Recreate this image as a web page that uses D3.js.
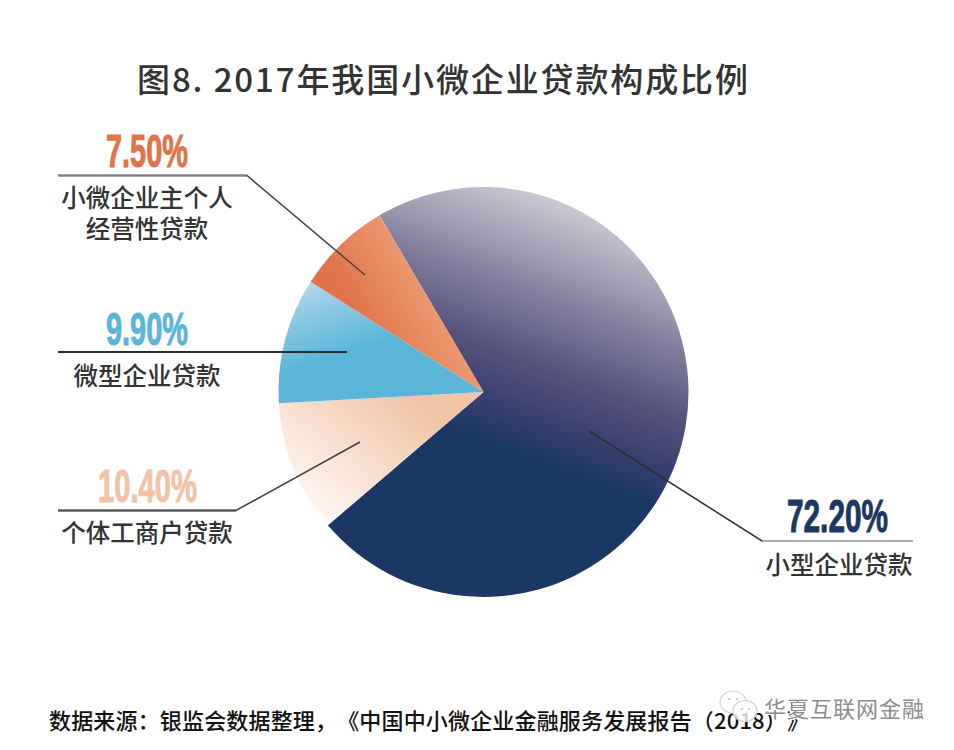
<!DOCTYPE html>
<html>
<head>
<meta charset="utf-8">
<script src="https://cdn.jsdelivr.net/npm/d3@7"></script>
<style>
html, body { margin: 0; padding: 0; background: #fff; }
svg { display: block; }
text { font-family: "Noto Sans CJK SC", sans-serif; text-spacing-trim: space-all; font-feature-settings: "chws" 0; }
</style>
</head>
<body>
<script>
var titleText = "图8. 2017年我国小微企业贷款构成比例";
var sourceText = "数据来源：银监会数据整理，《中国中小微企业金融服务发展报告（2018）》";
var watermarkText = "华夏互联网金融";

// clockwise from the top of the big slice
var categories = ["小型企业贷款", "个体工商户贷款", "微型企业贷款", "小微企业主个人经营性贷款"];
var values = [72.2, 10.4, 9.9, 7.5];
var valueLabels = ["72.20%", "10.40%", "9.90%", "7.50%"];

var width = 954, height = 750;
var cx = 483.5, cy = 392, radius = 205;

var svg = d3.select("body").append("svg").attr("width", width).attr("height", height);
var defs = svg.append("defs");

// gradient ends are page coordinates, the pie group is translated
var grads = [
  {x1: 630, y1: 195, x2: 530, y2: 460, stops: [["0%", "#e2e0e5"], ["25%", "#aeaabd"], ["46%", "#7f7c9b"], ["68%", "#55537b"], ["83%", "#3c4270"], ["100%", "#1b3763"]]},
  {x1: 410, y1: 395, x2: 305, y2: 522, stops: [["0%", "#f0c4a6"], ["100%", "#fffbf8"]]},
  {x1: 298, y1: 285, x2: 322, y2: 360, stops: [["0%", "#b0d7e9"], ["100%", "#5ab5d9"]]},
  {x1: 350, y1: 305, x2: 435, y2: 255, stops: [["0%", "#e0734a"], ["100%", "#efa67d"]]}
];
grads.forEach(function(g, i) {
  var lg = defs.append("linearGradient")
    .attr("id", "slice" + i)
    .attr("gradientUnits", "userSpaceOnUse")
    .attr("gradientTransform", "translate(" + (-cx) + "," + (-cy) + ")")
    .attr("x1", g.x1).attr("y1", g.y1)
    .attr("x2", g.x2).attr("y2", g.y2);
  g.stops.forEach(function(s) {
    lg.append("stop").attr("offset", s[0]).attr("stop-color", s[1]);
  });
});

var pie = d3.pie().sort(null)
  .startAngle(-30.5 * Math.PI / 180)
  .endAngle(329.5 * Math.PI / 180);
var arc = d3.arc().innerRadius(0).outerRadius(radius);

svg.append("g")
  .attr("transform", "translate(" + cx + "," + cy + ")")
  .selectAll("path")
  .data(pie(values))
  .enter().append("path")
  .attr("d", arc)
  .attr("fill", function(d, i) { return "url(#slice" + i + ")"; });

// title
svg.append("text")
  .attr("x", 137).attr("y", 92)
  .attr("font-size", 33).attr("font-weight", 500).attr("fill", "#333")
  .attr("textLength", 611).attr("lengthAdjust", "spacing")
  .text(titleText);

// leader lines
var leaders = [
  {pts: [[913, 541], [762, 541], [589, 431]], color: "#2f2d36", first: "#a9a9a9"},
  {pts: [[58, 510.5], [236, 510.5], [360, 442]], color: "#45423f", first: "#4a4a4a"},
  {pts: [[58, 352], [347, 352]], color: "#2b2b33", first: "#2b2b33"},
  {pts: [[58, 175.5], [247, 175.5], [365, 275]], color: "#4a4242", first: "#7a7a7a"}
];
leaders.forEach(function(l) {
  svg.append("path")
    .attr("d", d3.line()(l.pts))
    .attr("fill", "none").attr("stroke", l.color).attr("stroke-width", 1.5);
  svg.append("line")
    .attr("x1", l.pts[0][0]).attr("y1", l.pts[0][1])
    .attr("x2", l.pts[1][0]).attr("y2", l.pts[1][1])
    .attr("stroke", l.first).attr("stroke-width", 2);
});

// value labels
var valueColors = ["#1b3763", "#f0c3a6", "#5ab5d9", "#e0734a"];
var valuePos = [[837.5, 532], [147.5, 502], [147, 345], [147, 167]];
var valueWidths = [101, 99, 82, 82];
valueLabels.forEach(function(t, i) {
  svg.append("text")
    .attr("x", valuePos[i][0]).attr("y", valuePos[i][1])
    .attr("text-anchor", "middle")
    .attr("font-size", 47).attr("font-weight", 700)
    .attr("fill", valueColors[i])
    .attr("stroke", valueColors[i]).attr("stroke-width", 1)
    .attr("textLength", valueWidths[i]).attr("lengthAdjust", "spacingAndGlyphs")
    .style("font-family", '"Liberation Sans Narrow", "Liberation Sans", sans-serif')
    .text(t);
});

// category labels, long one is on two lines
var catLines = [["小型企业贷款"], ["个体工商户贷款"], ["微型企业贷款"], ["小微企业主个人", "经营性贷款"]];
var catPos = [[839, 574], [147, 542], [147, 385], [147, 207]];
catLines.forEach(function(lines, i) {
  lines.forEach(function(t, j) {
    svg.append("text")
      .attr("x", catPos[i][0]).attr("y", catPos[i][1] + j * 30.5)
      .attr("text-anchor", "middle")
      .attr("font-size", 24.5).attr("font-weight", 500).attr("fill", "#333")
      .text(t);
  });
});

// source line
svg.append("text")
  .attr("x", 49).attr("y", 729)
  .attr("font-size", 22).attr("font-weight", 500).attr("fill", "#111")
  .attr("textLength", 760).attr("lengthAdjust", "spacing")
  .text(sourceText);

// watermark
var wm = svg.append("g");
[[733, 702, 13, 11], [745, 711, 12, 10.5]].forEach(function(b) {
  wm.append("ellipse")
    .attr("cx", b[0]).attr("cy", b[1]).attr("rx", b[2]).attr("ry", b[3])
    .attr("fill", "#fff").attr("fill-opacity", 0.8)
    .attr("stroke", "#d2d2d2").attr("stroke-width", 1.2);
});
[[729, 699], [737, 699], [742, 709], [749, 709]].forEach(function(p) {
  wm.append("circle").attr("cx", p[0]).attr("cy", p[1]).attr("r", 1).attr("fill", "#bbb");
});
svg.append("text")
  .attr("x", 764).attr("y", 717)
  .attr("font-size", 22).attr("fill", "#8c8c8c")
  .attr("stroke", "#fff").attr("stroke-width", 2).attr("paint-order", "stroke")
  .attr("textLength", 160)
  .text(watermarkText);
</script>
</body>
</html>
